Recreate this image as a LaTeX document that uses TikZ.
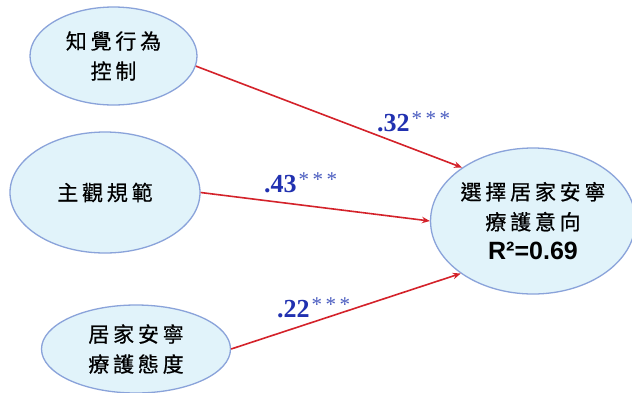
\documentclass[tikz,border=0pt]{standalone}
\usepackage{fontspec}
\usetikzlibrary{shapes.geometric,arrows.meta}
\newfontfamily\cjk[LetterSpace=18,FakeBold=0.6]{Noto Sans CJK TC}
\newfontfamily\labfont{Liberation Serif}
\newfontfamily\rsqfont{Liberation Sans}
\definecolor{efill}{HTML}{E1F3FA}
\definecolor{edraw}{HTML}{8AA3DA}
\definecolor{redline}{HTML}{D4222A}
\definecolor{labblue}{HTML}{2131B0}
\definecolor{astblue}{HTML}{4A5CC0}
\tikzset{
  oval/.style={ellipse, draw=edraw, fill=efill, line width=1.3pt, inner sep=0pt, align=center,
    font=\cjk\fontsize{21}{30}\selectfont},
  path/.style={draw=redline, line width=1.6pt, -{Stealth[length=8pt,width=6.5pt]}},
  coef/.style={anchor=west, inner sep=0pt, text=labblue, font=\labfont\bfseries\fontsize{26}{26}\selectfont}
}
\newcommand{\stars}{\hspace{2pt}\raisebox{0.55ex}{\textcolor{astblue}{\mdseries\fontsize{21}{21}\selectfont *\hspace{3.5pt}*\hspace{3.5pt}*}}}
\begin{document}
\begin{tikzpicture}[x=1pt,y=-1pt]
\useasboundingbox (0,0) rectangle (632,392);
\fill[white] (0,0) rectangle (632,392);
\node[oval, minimum width=167pt, minimum height=98pt] (e1) at (113.5,56) {知覺行為\\控制};
\node[oval, minimum width=190pt, minimum height=121pt] (e2) at (105,192.5) {主觀規範};
\node[oval, minimum width=189pt, minimum height=88pt] (e3) at (136,349) {居家安寧\\療護態度};
\node[oval, minimum width=196pt, minimum height=146pt] (e4) at (533,221) {選擇居家安寧\\療護意向\\{\rsqfont\bfseries\fontsize{25}{30}\selectfont R²=0.69}};
\draw[path] (e1.-7.5) -- (e4.143);
\draw[path] (e2.0) -- (e4.180);
\draw[path] (e3.0) -- (e4.216);
\node[coef] (c1) at (377,122) {.32\stars};
\node[coef] (c2) at (264,183) {.43\stars};
\node[coef] (c3) at (277,308) {.22\stars};
\end{tikzpicture}
\end{document}
